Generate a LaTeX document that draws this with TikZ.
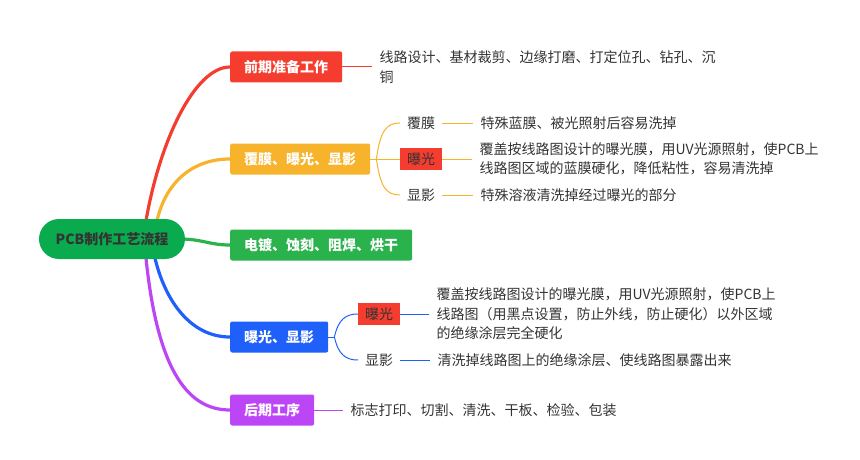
\documentclass[tikz,border=0pt]{standalone}
\usepackage{fontspec}
\newfontfamily\cjk{Noto Sans CJK SC}
\usepackage{tikz}
\usetikzlibrary{positioning,calc,backgrounds}
\definecolor{darktext}{RGB}{51,51,51}
\definecolor{prepred}{RGB}{245,61,47}
\definecolor{filmyellow}{RGB}{247,179,43}
\definecolor{rootgreen}{RGB}{10,170,78}
\definecolor{plategreen}{RGB}{42,178,76}
\definecolor{expoblue}{RGB}{31,95,250}
\definecolor{postpurple}{RGB}{188,70,246}

\begin{document}
\begin{tikzpicture}[
  x=1pt, y=-1pt,
  node distance=30pt,
  txt/.style={font=\cjk\fontsize{14pt}{19.5pt}\selectfont},
  root/.style={rectangle, rounded corners=20pt, fill=rootgreen, text=darktext,
               font=\cjk\fontsize{14pt}{19.5pt}\selectfont\bfseries,
               minimum width=146pt, minimum height=40pt},
  branch/.style={rectangle, rounded corners=2pt, text=white,
                 font=\cjk\fontsize{14pt}{19.5pt}\selectfont\bfseries,
                 minimum height=31pt, inner xsep=14pt, inner ysep=0pt, anchor=west},
  sub/.style={txt, rectangle, text=darktext, minimum height=22pt,
              inner xsep=7pt, inner ysep=0pt, anchor=west},
  leaf/.style={txt, text=darktext, align=left, inner xsep=7pt, inner ysep=2pt},
  trunk/.style={line width=3.2pt, line cap=round},
  twig/.style={line width=1pt}
]
  \useasboundingbox (0,0) rectangle (860,460);

  % centre
  \node[root] (root) at (112,239) {PCB制作工艺流程};

  % main branches
  \node[branch, fill=prepred] (prep) at (230,67) {前期准备工作};
  \node[branch, fill=filmyellow] (film) at (230,159) {覆膜、曝光、显影};
  \node[branch, fill=plategreen] (plate) at (230,245) {电镀、蚀刻、阻焊、烘干};
  \node[branch, fill=expoblue] (expo) at (230,337) {曝光、显影};
  \node[branch, fill=postpurple] (post) at (230,410) {后期工序};

  % sub topics
  \node[sub] (filmA) at (400,123) {覆膜};
  \node[sub, fill=prepred] (filmB) at (400,159) {曝光};
  \node[sub] (filmC) at (400,195) {显影};
  \node[sub, fill=prepred] (expoA) at (358,314) {曝光};
  \node[sub] (expoB) at (358,360) {显影};

  % details
  \node[leaf, right=30pt of prep] (prepTxt) {线路设计、基材裁剪、边缘打磨、打定位孔、钻孔、沉\\铜};
  \node[leaf, right=31pt of filmA] (filmAtxt) {特殊蓝膜、被光照射后容易洗掉};
  \node[leaf, right=30pt of filmB] (filmBtxt) {覆盖按线路图设计的曝光膜，用UV光源照射，使PCB上\\线路图区域的蓝膜硬化，降低粘性，容易清洗掉};
  \node[leaf, right=31pt of filmC] (filmCtxt) {特殊溶液清洗掉经过曝光的部分};
  \node[leaf, right=29pt of expoA] (expoAtxt) {覆盖按线路图设计的曝光膜，用UV光源照射，使PCB上\\线路图（用黑点设置，防止外线，防止硬化）以外区域\\的绝缘涂层完全硬化};
  \node[leaf, right=30pt of expoB] (expoBtxt) {清洗掉线路图上的绝缘涂层、使线路图暴露出来};
  \node[leaf, right=29pt of post] (postTxt) {标志打印、切割、清洗、干板、检验、包装};

  \coordinate (filmSplit) at ($(film.east)+(6,0)$);
  \coordinate (expoSplit) at ($(expo.east)+(6,0)$);

  \begin{scope}[on background layer]
    % trunks
    \draw[trunk, prepred] ($(root.north)+(34,2)$) .. controls (160,140) and (195,67) .. (prep.west);
    \draw[trunk, filmyellow] ($(root.north)+(45,2)$) .. controls (165,185) and (190,159) .. (film.west);
    \draw[trunk, plategreen] ($(root.east)+(-2,0)$) .. controls (205,240) and (210,245) .. (plate.west);
    \draw[trunk, expoblue] ($(root.south)+(43,-1)$) .. controls (165,300) and (190,337) .. (expo.west);
    \draw[trunk, postpurple] ($(root.south)+(34,-1)$) .. controls (158,375) and (190,410) .. (post.west);

    % twigs
    \draw[twig, prepred] (prep.east) -- (prepTxt.west);
    \draw[twig, filmyellow] (film.east) -- (filmSplit);
    \draw[twig, filmyellow] (filmSplit) .. controls +(4,-28) and +(-14,0) .. (filmA.west);
    \draw[twig, filmyellow] (filmSplit) -- (filmB.west);
    \draw[twig, filmyellow] (filmSplit) .. controls +(4,28) and +(-14,0) .. (filmC.west);
    \draw[twig, filmyellow] (filmA.east) -- (filmAtxt.west);
    \draw[twig, filmyellow] (filmB.east) -- (filmBtxt.west);
    \draw[twig, filmyellow] (filmC.east) -- (filmCtxt.west);
    \draw[twig, expoblue] (expo.east) -- (expoSplit);
    \draw[twig, expoblue] (expoSplit) .. controls +(4,-18) and +(-12,0) .. (expoA.west);
    \draw[twig, expoblue] (expoSplit) .. controls +(4,18) and +(-12,0) .. (expoB.west);
    \draw[twig, expoblue] (expoA.east) -- (expoAtxt.west);
    \draw[twig, expoblue] (expoB.east) -- (expoBtxt.west);
    \draw[twig, postpurple] (post.east) -- (postTxt.west);
  \end{scope}
\end{tikzpicture}
\end{document}
